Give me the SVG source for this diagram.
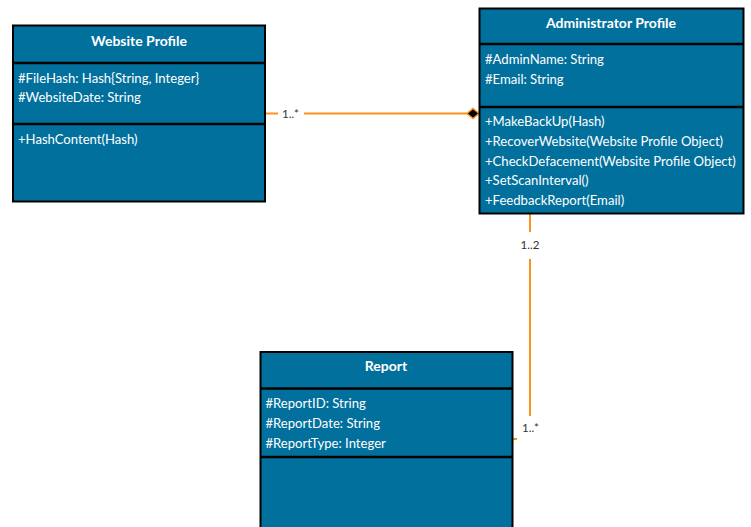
<svg xmlns="http://www.w3.org/2000/svg" width="751" height="527" viewBox="0 0 751 527">
<style>
.box{fill:#02709d;stroke:#000;stroke-width:2}
.div{stroke:#000;stroke-width:2.5}
.title{font-family:Lato,"Liberation Sans",sans-serif;font-size:14px;font-weight:bold;fill:#fff;text-anchor:middle}
.attr{font-family:Lato,"Liberation Sans",sans-serif;font-size:13.1px;fill:#fff}
.conn{stroke:#f7931e;stroke-width:2;fill:none}
.lbl{font-family:Lato,"Liberation Sans",sans-serif;font-size:11.5px;fill:#333}
</style>
<rect width="751" height="527" fill="#fff"/>
<g id="connectors">
<line class="conn" x1="265" y1="113.5" x2="278" y2="113.5"/>
<line class="conn" x1="304" y1="113.5" x2="467" y2="113.5"/>
<polygon points="467,113.5 473,108.5 479,113.5 473,118.5" fill="#000" stroke="#f7931e" stroke-width="1.5"/>
<text class="lbl" x="282" y="117.5">1..*</text>
<line class="conn" x1="530" y1="213" x2="530" y2="232"/>
<text class="lbl" x="530" y="249" text-anchor="middle">1..2</text>
<line class="conn" x1="530" y1="259" x2="530" y2="416"/>
<text class="lbl" x="522" y="432">1..*</text>
<line class="conn" x1="512" y1="439" x2="517" y2="439"/>
</g>
<g id="website-profile">
<rect class="box" x="13" y="25.5" width="252" height="176"/>
<line class="div" x1="13" y1="63" x2="265" y2="63"/>
<line class="div" x1="13" y1="124" x2="265" y2="124"/>
<text class="title" x="139" y="45.5">Website Profile</text>
<text class="attr" x="18" y="82.5">#FileHash: Hash{String, Integer}</text>
<text class="attr" x="18" y="102">#WebsiteDate: String</text>
<text class="attr" x="18" y="143.5">+HashContent(Hash)</text>
</g>
<g id="administrator-profile">
<rect class="box" x="479.5" y="8.5" width="264" height="205"/>
<line class="div" x1="479.5" y1="44" x2="743.5" y2="44"/>
<line class="div" x1="479.5" y1="107" x2="743.5" y2="107"/>
<text class="title" x="611" y="28">Administrator Profile</text>
<text class="attr" x="485" y="64">#AdminName: String</text>
<text class="attr" x="485" y="84">#Email: String</text>
<text class="attr" x="485" y="126">+MakeBackUp(Hash)</text>
<text class="attr" x="485" y="146">+RecoverWebsite(Website Profile Object)</text>
<text class="attr" x="485" y="165.5">+CheckDefacement(Website Profile Object)</text>
<text class="attr" x="485" y="185">+SetScanInterval()</text>
<text class="attr" x="485" y="205">+FeedbackReport(Email)</text>
</g>
<g id="report">
<rect class="box" x="260.5" y="352" width="252" height="176"/>
<line class="div" x1="260.5" y1="388.5" x2="512.5" y2="388.5"/>
<line class="div" x1="260.5" y1="457" x2="512.5" y2="457"/>
<text class="title" x="386" y="371">Report</text>
<text class="attr" x="265.5" y="408">#ReportID: String</text>
<text class="attr" x="265.5" y="428">#ReportDate: String</text>
<text class="attr" x="265.5" y="448">#ReportType: Integer</text>
</g>
</svg>
